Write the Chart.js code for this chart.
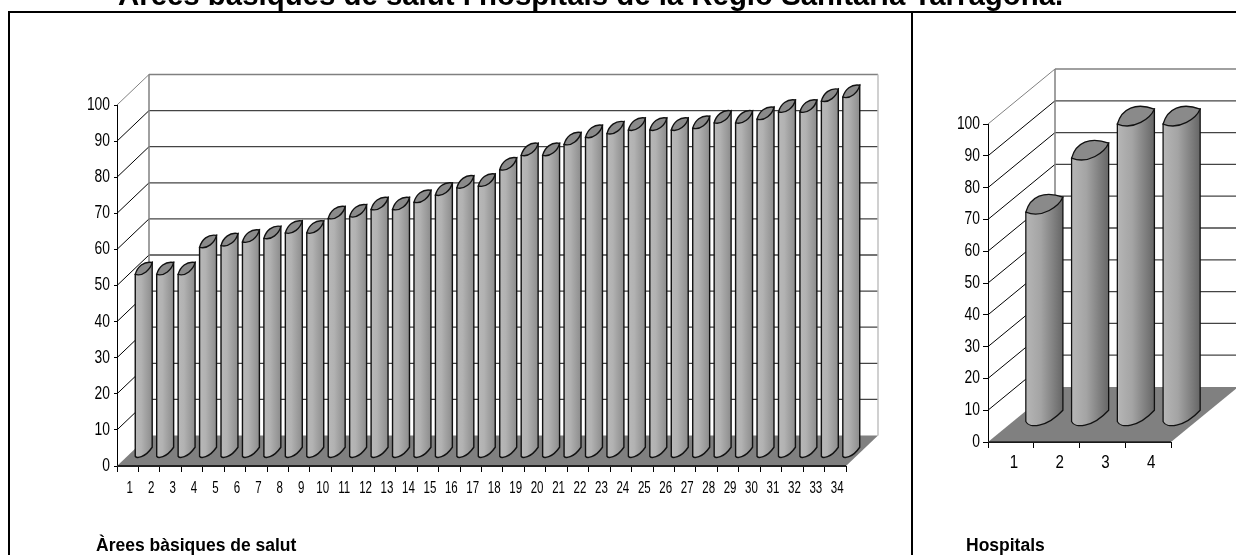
<!DOCTYPE html>
<html>
<head>
<meta charset="utf-8">
<title>Àrees bàsiques de salut i hospitals</title>
<script src="https://cdn.jsdelivr.net/npm/chart.js@4"></script>
<style>
  html, body { margin: 0; padding: 0; background: #fff; overflow: hidden; }
  #page { position: relative; width: 1236px; height: 555px; overflow: hidden; }
  canvas { position: absolute; top: 0; }
  #frameTop { position: absolute; left: 8px; top: 11px; width: 1228px; height: 2px; background: #000; }
  #frameLeft { position: absolute; left: 8px; top: 11px; width: 2px; height: 544px; background: #000; }
  #frameMid { position: absolute; left: 911px; top: 11px; width: 2px; height: 544px; background: #000; }
  #title { position: absolute; left: 118px; top: -22px; white-space: nowrap; font: bold 29.4px "Liberation Sans", Arial, sans-serif; color: #000; }
  .caption { position: absolute; top: 535px; white-space: nowrap; font: bold 17.5px "Liberation Sans", Arial, sans-serif; color: #000; }
</style>
</head>
<body>
<div id="page">
  <canvas id="areasChart" width="911" height="555" style="left:0"></canvas>
  <canvas id="hospChart" width="322" height="555" style="left:914px"></canvas>
  <div id="frameTop"></div>
  <div id="frameLeft"></div>
  <div id="frameMid"></div>
  <div id="title">Àrees bàsiques de salut i hospitals de la Regió Sanitària Tarragona.</div>
  <div class="caption" style="left:96px">Àrees bàsiques de salut</div>
  <div class="caption" style="left:966px">Hospitals</div>
</div>
<script>
// values
const areaLabels = ["1","2","3","4","5","6","7","8","9","10","11","12","13","14","15","16","17",
  "18","19","20","21","22","23","24","25","26","27","28","29","30","31","32","33","34"];
const areaValues = [50.5, 50.5, 50.5, 58, 58.5, 59.5, 60.5, 62, 62, 66, 66.5, 68.5, 68.5, 70.5, 72.5, 74.5, 75,
  79.5, 83.5, 83.5, 86.5, 88.5, 89.5, 90.5, 90.5, 90.5, 91, 92.5, 92.5, 93.5, 95.5, 95.5, 98.5, 99.6];
const hospLabels = ["1","2","3","4"];
const hospValues = [66, 83, 93.7, 93.7];

// squeezed text, the original labels are much narrower than any installed font
function squeezedText(ctx, text, px, py, sx, align) {
  ctx.save();
  ctx.translate(px, py);
  ctx.scale(sx, 1);
  ctx.textAlign = align;
  ctx.textBaseline = "middle";
  ctx.fillText(text, 0, 0);
  ctx.restore();
}

// fake 3D box + cylinders, everything hangs off the chart scales
const box3d = {
  id: "box3d",
  beforeDatasetsDraw(chart, args, opts) {
    const { ctx, scales: { x, y }, chartArea: a } = chart;
    const { dx, dy } = opts;
    ctx.save();

    // back wall lines and the slanted lines on the side wall
    y.ticks.forEach(t => {
      const py = y.getPixelForValue(t.value);
      if (t.value > 0) {
        ctx.strokeStyle = t.value === 100 ? "#808080" : "#000";
        ctx.lineWidth = 1;
        ctx.beginPath();
        ctx.moveTo(a.left, py);
        ctx.lineTo(a.left + dx, py - dy);
        ctx.stroke();
        ctx.strokeStyle = t.value === 100 ? "#808080" : "#444";
        ctx.lineWidth = 1.3;
        ctx.beginPath();
        ctx.moveTo(a.left + dx, py - dy);
        ctx.lineTo(a.right + dx, py - dy);
        ctx.stroke();
      }
    });
    ctx.strokeStyle = "#808080";
    ctx.lineWidth = 1.5;
    ctx.beginPath();
    ctx.moveTo(a.left + dx, y.getPixelForValue(100) - dy);
    ctx.lineTo(a.left + dx, y.getPixelForValue(0) - dy);
    ctx.stroke();
    ctx.strokeStyle = "#c0c0c0";
    ctx.beginPath();
    ctx.moveTo(a.right + dx, y.getPixelForValue(100) - dy);
    ctx.lineTo(a.right + dx, y.getPixelForValue(0) - dy);
    ctx.stroke();

    // floor
    const y0 = y.getPixelForValue(0);
    ctx.fillStyle = "#808080";
    ctx.beginPath();
    ctx.moveTo(a.left, y0);
    ctx.lineTo(a.right, y0);
    ctx.lineTo(a.right + dx, y0 - dy);
    ctx.lineTo(a.left + dx, y0 - dy);
    ctx.closePath();
    ctx.fill();
    ctx.strokeStyle = "#222";
    ctx.lineWidth = opts.floorLine;
    ctx.beginPath();
    ctx.moveTo(a.left, y0);
    ctx.lineTo(a.right, y0);
    ctx.stroke();
    ctx.restore();
  },
  afterDatasetsDraw(chart, args, opts) {
    const { ctx } = chart;
    const { dx, dy, rise, up } = opts;
    ctx.save();
    chart.getDatasetMeta(0).data.forEach(bar => {
      const w = bar.width;
      const xl = bar.x - w / 2 + dx / 2;
      const xr = xl + w;
      const top = bar.y - dy / 2;
      const bot = bar.base - dy / 2;

      const grad = ctx.createLinearGradient(xl, 0, xr, 0);
      opts.stops.forEach(s => grad.addColorStop(s[0], s[1]));

      // body
      ctx.beginPath();
      ctx.moveTo(xl, top + rise);
      ctx.lineTo(xl, bot + rise);
      ctx.bezierCurveTo(xl + .08 * w, bot + up[2] * rise, xl + .55 * w, bot + up[2] * rise, xr, bot - rise * .5);
      ctx.lineTo(xr, top - rise);
      ctx.closePath();
      ctx.fillStyle = grad;
      ctx.fill();
      ctx.strokeStyle = "#111";
      ctx.lineWidth = opts.barLine;
      ctx.stroke();

      // cap
      ctx.beginPath();
      ctx.moveTo(xl, top + rise);
      ctx.bezierCurveTo(xl + .12 * w, top - up[0] * rise, xl + .5 * w, top - up[1] * rise, xr, top - rise);
      ctx.bezierCurveTo(xr - .1 * w, top + .2 * rise, xl + .45 * w, top + up[2] * rise, xl, top + rise);
      ctx.closePath();
      ctx.fillStyle = "#8a8a8a";
      ctx.fill();
      ctx.stroke();
    });
    ctx.restore();
  },
  // axis labels from the scale ticks
  afterDraw(chart, args, opts) {
    const { ctx, scales: { x, y }, chartArea: a } = chart;
    ctx.save();
    ctx.fillStyle = "#000";
    ctx.font = opts.xFont + " 'Liberation Sans', Arial, sans-serif";
    x.ticks.forEach((t, i) => {
      const px = x.getPixelForTick(i) + opts.xShift;
      squeezedText(ctx, x.getLabelForValue(t.value), px, a.bottom + opts.xGap, opts.xScale, "center");
    });
    ctx.font = "18px 'Liberation Sans', Arial, sans-serif";
    y.ticks.forEach(t => {
      squeezedText(ctx, String(t.value), a.left - opts.yGap, y.getPixelForValue(t.value), 0.77, "right");
    });
    ctx.restore();
  }
};

function makeChart(id, labels, values, pad, box) {
  return new Chart(document.getElementById(id), {
    type: "bar",
    data: {
      labels: labels,
      datasets: [{
        data: values,
        backgroundColor: "transparent",
        borderWidth: 0,
        barPercentage: box.bar,
        categoryPercentage: 1
      }]
    },
    plugins: [box3d],
    options: {
      responsive: false,
      animation: false,
      layout: { padding: pad },
      plugins: { legend: { display: false }, tooltip: { enabled: false }, box3d: box },
      scales: {
        x: {
          afterFit: s => { s.height = 30; },
          border: { color: "#000" },
          grid: { drawOnChartArea: false, color: "#000", tickLength: 6 },
          ticks: { display: false }
        },
        y: {
          min: 0,
          max: 100,
          afterFit: s => { s.width = 40; },
          border: { color: "#000" },
          grid: { drawOnChartArea: false, color: "#000", tickLength: box.yTick },
          ticks: { display: false, stepSize: 10 }
        }
      }
    }
  });
}

makeChart("areasChart", areaLabels, areaValues,
  { left: 77, right: 65, top: 105, bottom: 59 },
  {
    dx: 32, dy: 30.5, rise: 6, up: [.3, 1.25, 1.35], bar: 0.79, barLine: 1.4, floorLine: 2,
    xFont: "16px", xScale: 0.72, xShift: 2, xGap: 23, yGap: 7, yTick: 3,
    stops: [[0, "#b8b8b8"], [.35, "#b2b2b2"], [.55, "#a6a6a6"], [.8, "#989898"], [1, "#8c8c8c"]]
  });

makeChart("hospChart", hospLabels, hospValues,
  { left: 34, right: 65, top: 124, bottom: 83 },
  {
    dx: 67, dy: 55, rise: 7.5, up: [1.1, 1.9, 1.9], bar: 0.81, barLine: 1.3, floorLine: 1.5,
    xFont: "18px", xScale: 0.84, xShift: 3, xGap: 21, yGap: 8, yTick: 5,
    stops: [[0, "#cfcfcf"], [.04, "#b4b4b4"], [.4, "#a4a4a4"], [.7, "#858585"], [1, "#666"]]
  });
</script>
</body>
</html>
